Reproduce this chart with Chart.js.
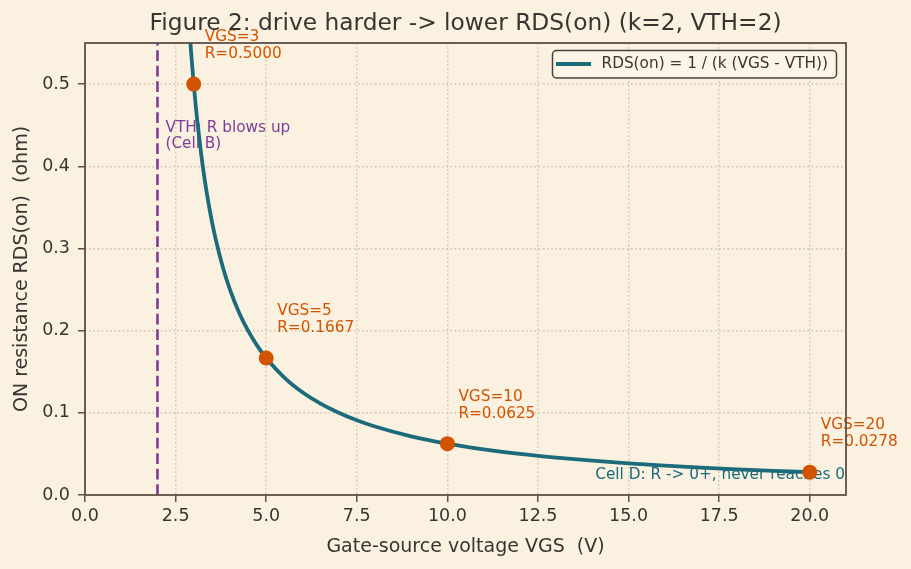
<!DOCTYPE html>
<html><head><meta charset="utf-8">
<script src="https://cdn.jsdelivr.net/npm/chart.js@4/dist/chart.umd.min.js"></script>
<style>html,body{margin:0;padding:0;background:#faf1e1;overflow:hidden;} #wrap{width:911px;height:569px;position:relative;}</style>
</head><body><div id="wrap"><canvas id="c" width="911" height="569"></canvas></div>
<script>
// ---- data ----
const curveVGS = [2.88, 2.91, 2.95, 3.0, 3.05, 3.1, 3.2, 3.3, 3.4, 3.5, 3.6, 3.8, 4.0, 4.25, 4.5, 4.75, 5, 5.5, 6, 6.5, 7, 7.5, 8, 9, 10, 11, 12, 13, 14, 15, 16, 17, 18, 19, 20];
const curveR   = [0.568, 0.5495, 0.5263, 0.5, 0.4762, 0.4545, 0.4167, 0.3846, 0.3571, 0.3333, 0.3125, 0.2778, 0.25, 0.2222, 0.2, 0.1818, 0.1667, 0.1429, 0.125, 0.1111, 0.1, 0.0909, 0.0833, 0.0714, 0.0625, 0.0556, 0.05, 0.0455, 0.0417, 0.0385, 0.0357, 0.0333, 0.03125, 0.0294, 0.0278];
const pointVGS = [3, 5, 10, 20];
const pointR   = [0.5, 0.1667, 0.0625, 0.0278];
const vthValue = 2;
const xTicks = [0, 2.5, 5, 7.5, 10, 12.5, 15, 17.5, 20];
const yTicks = [0, 0.1, 0.2, 0.3, 0.4, 0.5];
const xRange = [0, 21];
const yRange = [0, 0.55];
const titleText = 'Figure 2: drive harder -> lower RDS(on) (k=2, VTH=2)';
const xTitle = 'Gate-source voltage VGS  (V)';
const yTitle = 'ON resistance RDS(on)  (ohm)';
const curveLabel = 'RDS(on) = 1 / (k (VGS - VTH))';
const vthNote = ['VTH: R blows up', '(Cell B)'];
const cellDNote = 'Cell D: R -> 0+, never reaches 0';

// ---- styles ----
const FONT = "'DejaVu Sans', sans-serif";
const TXT = '#3b3330';
const TEAL = '#1b6b7b';
const ORANGE = '#d35400';
const PURPLE = '#7d3c98';
const SPINE = '#5c5046';
const GRID = '#d0c5ad';

const annot = {
  id: 'annot',
  beforeDatasetsDraw(chart) {
    const {ctx, scales: {x, y}} = chart;
    ctx.save();
    ctx.font = '15.3px ' + FONT;
    ctx.textBaseline = 'middle';
    ctx.textAlign = 'left';
    // VTH note
    ctx.fillStyle = PURPLE;
    ctx.fillText(vthNote[0], x.getPixelForValue(2.22), y.getPixelForValue(0.447));
    ctx.fillText(vthNote[1], x.getPixelForValue(2.22), y.getPixelForValue(0.427));
    // point labels
    ctx.fillStyle = ORANGE;
    pointVGS.forEach((v, i) => {
      const px = x.getPixelForValue(v), py = y.getPixelForValue(pointR[i]);
      ctx.fillText('VGS=' + v, px + 11, py - 47);
      ctx.fillText('R=' + pointR[i].toFixed(4), px + 11, py - 30);
    });
    // Cell D
    ctx.fillStyle = TEAL;
    ctx.textAlign = 'right';
    ctx.fillText(cellDNote, x.getPixelForValue(21) - 1, y.getPixelForValue(0.0245));
    ctx.restore();
  },
  afterDatasetsDraw(chart) {
    const {ctx, chartArea: a} = chart;
    ctx.save();
    ctx.strokeStyle = SPINE;
    ctx.lineWidth = 1.8;
    ctx.strokeRect(a.left, a.top, a.right - a.left, a.bottom - a.top);
    // title, centred over the plot area
    ctx.fillStyle = TXT;
    ctx.font = '23.3px ' + FONT;
    ctx.textAlign = 'center';
    ctx.textBaseline = 'middle';
    ctx.fillText(titleText, (a.left + a.right) / 2, 24);
    // legend
    const bx = 552.5, by = 50.5, bw = 284, bh = 27.5, r = 4;
    ctx.beginPath();
    ctx.moveTo(bx + r, by);
    ctx.arcTo(bx + bw, by, bx + bw, by + bh, r);
    ctx.arcTo(bx + bw, by + bh, bx, by + bh, r);
    ctx.arcTo(bx, by + bh, bx, by, r);
    ctx.arcTo(bx, by, bx + bw, by, r);
    ctx.closePath();
    ctx.fillStyle = 'rgba(251,244,232,0.85)';
    ctx.fill();
    ctx.lineWidth = 1.5;
    ctx.strokeStyle = '#4a4038';
    ctx.stroke();
    ctx.beginPath();
    ctx.moveTo(556, 64);
    ctx.lineTo(591, 64);
    ctx.strokeStyle = TEAL;
    ctx.lineWidth = 3.8;
    ctx.stroke();
    ctx.fillStyle = TXT;
    ctx.font = '15.3px ' + FONT;
    ctx.textBaseline = 'middle';
    ctx.textAlign = 'left';
    ctx.fillText(chart.data.datasets[0].label, 601.5, 64.5);
    ctx.restore();
  }
};

const tickSet = (vals) => (scale) => { scale.ticks = vals.map(v => ({value: v})); };

new Chart(document.getElementById('c'), {
  type: 'scatter',
  data: {
    datasets: [
      {
        label: curveLabel,
        data: curveVGS.map((v, i) => ({x: v, y: curveR[i]})),
        showLine: true,
        borderColor: TEAL,
        borderWidth: 3.8,
        pointRadius: 0,
        cubicInterpolationMode: 'monotone',
        order: 1
      },
      {
        label: 'points',
        data: pointVGS.map((v, i) => ({x: v, y: pointR[i]})),
        backgroundColor: ORANGE,
        borderColor: ORANGE,
        pointRadius: 7.5,
        borderWidth: 0,
        order: 0
      },
      {
        label: 'VTH',
        data: [{x: vthValue, y: yRange[0]}, {x: vthValue, y: yRange[1]}],
        showLine: true,
        borderColor: PURPLE,
        borderWidth: 2.6,
        borderDash: [10.8, 4.7],
        pointRadius: 0,
        order: 2
      }
    ]
  },
  options: {
    responsive: false,
    animation: false,
    devicePixelRatio: 1,
    layout: {padding: {left: 0, right: 65, top: 43, bottom: 0}},
    plugins: {
      legend: {display: false},
      tooltip: {enabled: false},
      title: {display: false}
    },
    scales: {
      x: {
        type: 'linear',
        min: xRange[0], max: xRange[1],
        afterBuildTicks: tickSet(xTicks),
        afterFit: (s) => { s.height = 74; },
        grid: {color: GRID, lineWidth: 1.5, drawTicks: true, tickLength: 7, tickColor: SPINE, tickWidth: 1.5, tickBorderDash: []},
        border: {display: false, dash: [1.6, 2.6]},
        ticks: {color: TXT, font: {family: FONT, size: 17.5}, padding: 4, maxRotation: 0, callback: (v) => Number(v).toFixed(1)},
        title: {display: true, text: xTitle, color: TXT, font: {family: FONT, size: 19}, padding: {top: 0, bottom: 11}}
      },
      y: {
        type: 'linear',
        min: yRange[0], max: yRange[1],
        afterBuildTicks: tickSet(yTicks),
        afterFit: (s) => { s.width = 85; },
        grid: {color: GRID, lineWidth: 1.5, drawTicks: true, tickLength: 7, tickColor: SPINE, tickWidth: 1.5, tickBorderDash: []},
        border: {display: false, dash: [1.6, 2.6]},
        ticks: {color: TXT, font: {family: FONT, size: 17.5}, padding: 8, callback: (v) => Number(v).toFixed(1)},
        title: {display: true, text: yTitle, color: TXT, font: {family: FONT, size: 19}, padding: {top: 10.6, bottom: 0}}
      }
    }
  },
  plugins: [annot]
});
</script>
</body></html>
